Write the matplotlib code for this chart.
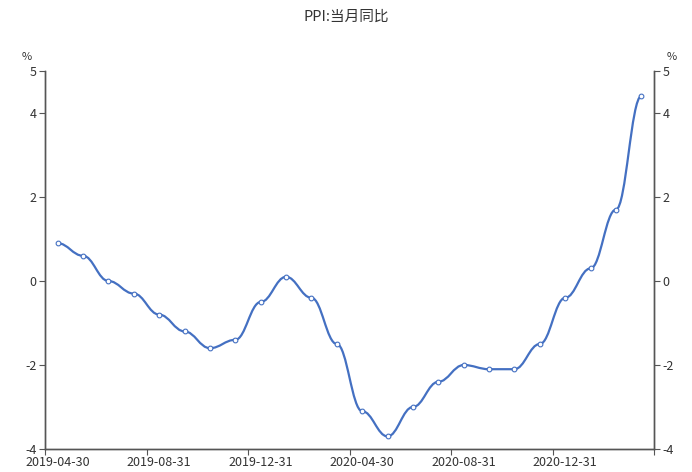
import numpy as np
import matplotlib
matplotlib.use("Agg")
import matplotlib.pyplot as plt
from matplotlib.path import Path
from matplotlib.patches import PathPatch

plt.rcParams["font.family"] = ["Noto Sans CJK SC", "DejaVu Sans"]

# ---- 数据 ----
months = ["2019-04-30", "2019-05-31", "2019-06-30", "2019-07-31", "2019-08-31",
          "2019-09-30", "2019-10-31", "2019-11-30", "2019-12-31", "2020-01-31",
          "2020-02-29", "2020-03-31", "2020-04-30", "2020-05-31", "2020-06-30",
          "2020-07-31", "2020-08-31", "2020-09-30", "2020-10-31", "2020-11-30",
          "2020-12-31", "2021-01-31", "2021-02-28", "2021-03-31"]
ppi_yoy = [0.9, 0.6, 0.0, -0.3, -0.8, -1.2, -1.6, -1.4, -0.5, 0.1,
           -0.4, -1.5, -3.1, -3.7, -3.0, -2.4, -2.0, -2.1, -2.1, -1.5,
           -0.4, 0.3, 1.7, 4.4]
y_ticks = [-4, -2, 0, 2, 4, 5]

line_color = "#4470C2"
axis_color = "#555555"
text_color = "#333333"

W, H = 692, 472
fig = plt.figure(figsize=(W / 100, H / 100), dpi=100)
ax = fig.add_axes([45 / W, 23 / H, (654 - 45) / W, (449 - 71) / H])

n = len(months)
x = np.arange(n)
ax.set_xlim(-0.5, n - 0.5)
ax.set_ylim(-4, 5)


def smooth_path(xs, ys, k=0.4):
    # 每段用三次贝塞尔, 端点处切线接近水平 (类似原图的台阶感)
    verts = [(xs[0], ys[0])]
    codes = [Path.MOVETO]
    for i in range(len(xs) - 1):
        dx = xs[i + 1] - xs[i]
        verts += [(xs[i] + dx * k, ys[i]),
                  (xs[i + 1] - dx * k, ys[i + 1]),
                  (xs[i + 1], ys[i + 1])]
        codes += [Path.CURVE4] * 3
    return Path(verts, codes)


ax.add_patch(PathPatch(smooth_path(x, ppi_yoy), facecolor="none",
                       edgecolor=line_color, lw=1.6, zorder=3))
ax.plot(x, ppi_yoy, ls="none", marker="o", ms=3.4, mfc="white",
        mec=line_color, mew=0.8, zorder=4)

# x 轴: 刻度在类目边界, 标签在类目中心
ax.set_xticks(np.arange(-0.5, n, 4))
ax.set_xticklabels([])
ax.set_xticks(np.arange(0, n, 4), minor=True)
ax.set_xticklabels(months[::4], minor=True)
ax.tick_params(axis="x", which="major", length=4, color=axis_color)
ax.tick_params(axis="x", which="minor", length=0, pad=5,
               labelsize=9, labelcolor=text_color)

ax.set_yticks(y_ticks)
ax.set_yticklabels([str(t) for t in y_ticks])
ax.tick_params(axis="y", length=4, color=axis_color, labelsize=9,
               labelcolor=text_color, pad=2)

ax2 = ax.twinx()
ax2.set_position(ax.get_position())
ax2.set_ylim(-4, 5)
ax2.set_yticks(y_ticks)
ax2.set_yticklabels([str(t) for t in y_ticks])
ax2.tick_params(axis="y", length=4, color=axis_color, labelsize=9,
                labelcolor=text_color, pad=2)

for a in (ax, ax2):
    a.spines["top"].set_visible(False)
    for s in ("left", "right", "bottom"):
        a.spines[s].set_color(axis_color)
        a.spines[s].set_linewidth(1)

fig.text(27 / W, 1 - 57 / H, "%", fontsize=8, color=text_color,
         ha="center", va="center")
fig.text(672 / W, 1 - 57 / H, "%", fontsize=8, color=text_color,
         ha="center", va="center")
fig.text(346 / W, 1 - 17 / H, "PPI:当月同比", fontsize=10.5, color=text_color,
         ha="center", va="center")

fig.savefig("out.png", dpi=100)
